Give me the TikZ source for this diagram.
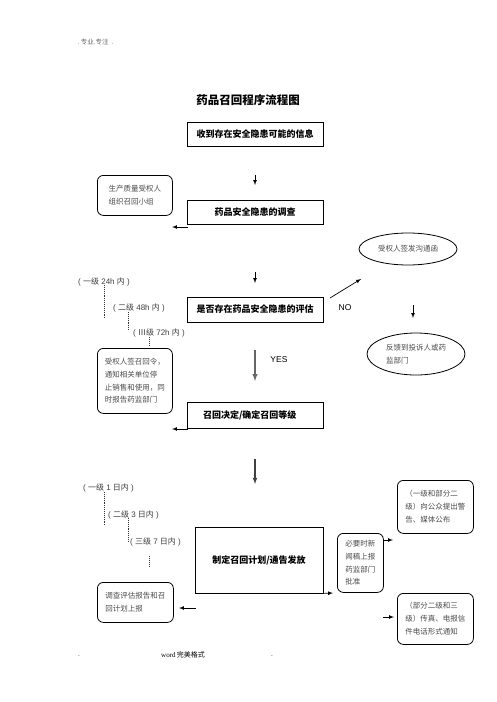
\documentclass[tikz,border=0pt]{standalone}
\usepackage{fontspec}
\setmainfont{Liberation Sans}
\newfontfamily\cjk{Noto Sans CJK SC}
\usetikzlibrary{shapes.geometric}

\tikzset{
	stage/.style={draw,line width=0.8pt,minimum width=136pt,minimum height=24pt,inner sep=0pt,font=\cjk\bfseries\fontsize{9}{11}\selectfont},
	note/.style={draw,line width=0.8pt,rounded corners=6pt,align=left,anchor=north west,inner xsep=7pt,inner ysep=5pt,text=black!70,font=\cjk\fontsize{7.5}{12.8}\selectfont},
	oval/.style={draw,ellipse,line width=0.8pt,inner sep=0pt,align=left,text=black!70,font=\cjk\fontsize{7.5}{12.8}\selectfont},
	level/.style={anchor=west,inner sep=0pt,text=black!75,font=\fontsize{8}{10}\selectfont},
	flow/.style={-latex,line width=0.7pt},
	tie/.style={densely dotted,line width=0.9pt,black!80}
}

\begin{document}
\begin{tikzpicture}[x=1pt,y=-1pt]
	\useasboundingbox[fill=white] (0,0) rectangle (496,702);

	% header, title, footer
	\node[anchor=west,text=black!60,font=\cjk\fontsize{6.5}{8}\selectfont] (Header) at (74,42) {.\ 专业.专注\ \ .};
	\node[font=\cjk\bfseries\fontsize{11.5}{13}\selectfont] (Title) at (248,100) {药品召回程序流程图};
	\node[font=\fontsize{6.5}{8}\selectfont] (FootL) at (79,656) {.};
	\node[font=\fontsize{7}{8}\selectfont] (Foot) at (183,655) {\fontspec{Liberation Serif}word\,{\cjk 完美格式}};
	\node[font=\fontsize{6.5}{8}\selectfont] (FootR) at (272,656) {.};

	% main stages
	\node[stage] (Info)     at (255,134.5) {收到存在安全隐患可能的信息};
	\node[stage] (Survey)   at (255,212)   {药品安全隐患的调查};
	\node[stage,minimum height=25pt] (Assess) at (255,309.5) {是否存在药品安全隐患的评估};
	\node[stage,minimum height=26pt,text width=104pt,inner xsep=16pt,align=left] (Decide) at (255,415) {召回决定/确定召回等级};
	\node[stage,minimum width=128pt,minimum height=66pt] (Plan) at (259,560) {制定召回计划/通告发放};

	% side notes
	\node[note,minimum width=75pt,minimum height=40pt] (Team)   at (97,175)  {生产质量受权人\\组织召回小组};
	\node[note,minimum width=75pt,minimum height=65pt] (Order)  at (97,348)  {受权人签召回令，\\通知相关单位停\\止销售和使用，同\\时报告药监部门};
	\node[note,minimum width=76pt,minimum height=40pt] (Report) at (97,582)  {调查评估报告和召\\回计划上报};
	\node[note,minimum width=46pt,minimum height=59pt,inner xsep=7pt] (News) at (337,533) {必要时新\\闻稿上报\\药监部门\\批准};
	\node[note,minimum width=76pt,minimum height=53pt] (Public) at (397,480)  {（一级和部分二\\级）向公众提出警\\告、媒体公布};
	\node[note,minimum width=76pt,minimum height=51pt] (Fax)    at (397,593)  {（部分二级和三\\级）传真、电报信\\件电话形式通知};

	\node[oval,minimum width=98pt,minimum height=32pt] (Letter) at (408,249) {受权人签发沟通函};
	\node[oval,minimum width=98pt,minimum height=42pt] (Back)   at (416,354) {反馈到投诉人或药\\监部门};

	% time limits
	\node[level] (Hour1) at (78,282)  {( {\cjk 一级} 24h {\cjk 内} )};
	\node[level] (Hour2) at (113,308) {( {\cjk 二级} 48h {\cjk 内} )};
	\node[level] (Hour3) at (133,333) {( {\cjk Ⅲ级} 72h {\cjk 内} )};
	\node[level] (Day1)  at (83,488)  {( {\cjk 一级} 1 {\cjk 日内} )};
	\node[level] (Day2)  at (108,515) {( {\cjk 二级} 3 {\cjk 日内} )};
	\node[level] (Day3)  at (130,542) {( {\cjk 三级} 7 {\cjk 日内} )};

	\node[font=\fontsize{8.5}{10}\selectfont] (No)  at (345,308) {NO};
	\node[font=\fontsize{8.5}{10}\selectfont] (Yes) at (279,360) {YES};

	% free arrow ends
	\coordinate (A1s) at (255,175);  \coordinate (A1e) at (255,185);
	\coordinate (A2s) at (188,227);  \coordinate (A2e) at (172,227);
	\coordinate (A3s) at (255,272);  \coordinate (A3e) at (255,283);
	\coordinate (A4s) at (330,298);  \coordinate (A4e) at (361,279);
	\coordinate (A5s) at (413,305);  \coordinate (A5e) at (413,318);
	\coordinate (A6s) at (255,350);  \coordinate (A6e) at (255,381);
	\coordinate (A7s) at (188,429);  \coordinate (A7e) at (172,429);
	\coordinate (A8s) at (255,459);  \coordinate (A8e) at (255,484);
	\coordinate (A9s) at (196,608);  \coordinate (A9e) at (179,608);
	\coordinate (PlanOut) at (333,593);
	\coordinate (A10e) at (393,540);
	\coordinate (A11s) at (383,617); \coordinate (A11e) at (394,617);

	\foreach \From/\To in {A1s/A1e,A2s/A2e,A3s/A3e,A4s/A4e,A5s/A5e,A7s/A7e,A9s/A9e,A11s/A11e}
		\draw[flow] (\From) -- (\To);
	\draw[flow,line width=1.4pt,black!60] (A6s) -- (A6e);% YES
	\draw[flow,line width=1.1pt,black!75] (A8s) -- (A8e);
	\draw[flow] (Plan.south east) -- (PlanOut);
	\draw[flow] (News.north east |- A10e) -- (A10e);

	% dotted ties
	\coordinate (T1s) at (104,285); \coordinate (T1e) at (104,318);
	\coordinate (T2s) at (128,312); \coordinate (T2e) at (128,330);
	\coordinate (T3s) at (149,337); \coordinate (T3e) at (149,345);
	\coordinate (T4s) at (104,492); \coordinate (T4e) at (104,526);
	\coordinate (T5s) at (128,518); \coordinate (T5e) at (128,542);
	\coordinate (T6s) at (149,556); \coordinate (T6e) at (149,567);
	\foreach \From/\To in {T1s/T1e,T2s/T2e,T3s/T3e,T4s/T4e,T5s/T5e,T6s/T6e}
		\draw[tie] (\From) -- (\To);
\end{tikzpicture}
\end{document}
